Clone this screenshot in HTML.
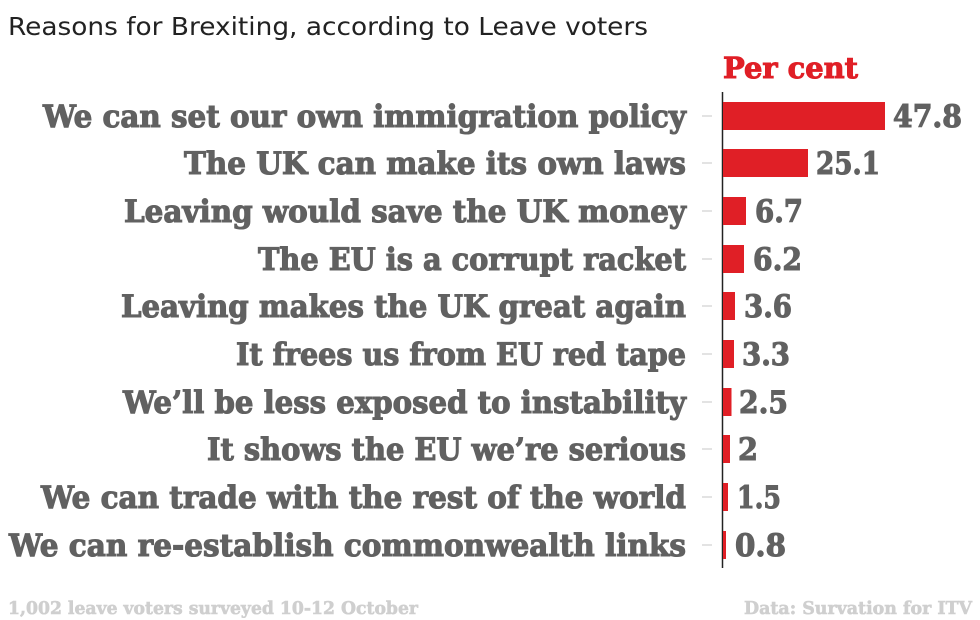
<!DOCTYPE html>
<html><head><meta charset="utf-8"><style>
html,body{margin:0;padding:0;background:#fff;}
svg{display:block;}
</style></head><body>
<svg width="980" height="620" viewBox="0 0 980 620" xmlns="http://www.w3.org/2000/svg">
<text x="8" y="35" font-family="DejaVu Sans, sans-serif" font-size="25" fill="#222" textLength="640" lengthAdjust="spacingAndGlyphs">Reasons for Brexiting, according to Leave voters</text>
<text x="723" y="78" font-family="DejaVu Serif, serif" font-weight="bold" font-size="29" fill="#e01f26" stroke="#e01f26" stroke-width="1" textLength="135" lengthAdjust="spacingAndGlyphs">Per cent</text>
<line x1="722.5" y1="92" x2="722.5" y2="568" stroke="#222" stroke-width="1.5"/>
<g font-family="DejaVu Serif, serif" font-weight="bold" font-size="31" fill="#616161" stroke="#616161" stroke-width="1.1">
<line x1="702" y1="116" x2="712" y2="116" stroke="#ccc"/><rect x="723" y="102" width="162" height="28" fill="#e01f26" stroke="none"/>
<text x="43" y="127" textLength="643" lengthAdjust="spacingAndGlyphs">We can set our own immigration policy</text>
<text x="893" y="127" textLength="69" lengthAdjust="spacingAndGlyphs">47.8</text>

<line x1="702" y1="163" x2="712" y2="163" stroke="#ccc"/><rect x="723" y="149" width="85" height="28" fill="#e01f26" stroke="none"/>
<text x="184" y="174" textLength="502" lengthAdjust="spacingAndGlyphs">The UK can make its own laws</text>
<text x="816" y="174" textLength="64" lengthAdjust="spacingAndGlyphs">25.1</text>

<line x1="702" y1="211" x2="712" y2="211" stroke="#ccc"/><rect x="723" y="197" width="23" height="28" fill="#e01f26" stroke="none"/>
<text x="124" y="222" textLength="562" lengthAdjust="spacingAndGlyphs">Leaving would save the UK money</text>
<text x="755" y="222" textLength="48" lengthAdjust="spacingAndGlyphs">6.7</text>

<line x1="702" y1="259" x2="712" y2="259" stroke="#ccc"/><rect x="723" y="245" width="21" height="28" fill="#e01f26" stroke="none"/>
<text x="258" y="270" textLength="428" lengthAdjust="spacingAndGlyphs">The EU is a corrupt racket</text>
<text x="753" y="270" textLength="49" lengthAdjust="spacingAndGlyphs">6.2</text>

<line x1="702" y1="306" x2="712" y2="306" stroke="#ccc"/><rect x="723" y="292" width="12" height="28" fill="#e01f26" stroke="none"/>
<text x="121" y="317" textLength="565" lengthAdjust="spacingAndGlyphs">Leaving makes the UK great again</text>
<text x="744" y="317" textLength="48" lengthAdjust="spacingAndGlyphs">3.6</text>

<line x1="702" y1="354" x2="712" y2="354" stroke="#ccc"/><rect x="723" y="340" width="11" height="28" fill="#e01f26" stroke="none"/>
<text x="236" y="365" textLength="450" lengthAdjust="spacingAndGlyphs">It frees us from EU red tape</text>
<text x="742" y="365" textLength="48" lengthAdjust="spacingAndGlyphs">3.3</text>

<line x1="702" y1="402" x2="712" y2="402" stroke="#ccc"/><rect x="723" y="388" width="8.5" height="28" fill="#e01f26" stroke="none"/>
<text x="123" y="413" textLength="563" lengthAdjust="spacingAndGlyphs">We’ll be less exposed to instability</text>
<text x="739" y="413" textLength="49" lengthAdjust="spacingAndGlyphs">2.5</text>

<line x1="702" y1="449" x2="712" y2="449" stroke="#ccc"/><rect x="723" y="435" width="7" height="28" fill="#e01f26" stroke="none"/>
<text x="207" y="460" textLength="479" lengthAdjust="spacingAndGlyphs">It shows the EU we’re serious</text>
<text x="738" y="460" textLength="20" lengthAdjust="spacingAndGlyphs">2</text>

<line x1="702" y1="497" x2="712" y2="497" stroke="#ccc"/><rect x="723" y="483" width="5" height="28" fill="#e01f26" stroke="none"/>
<text x="41" y="508" textLength="645" lengthAdjust="spacingAndGlyphs">We can trade with the rest of the world</text>
<text x="737" y="508" textLength="44" lengthAdjust="spacingAndGlyphs">1.5</text>

<line x1="702" y1="545" x2="712" y2="545" stroke="#ccc"/><rect x="723" y="531" width="3" height="28" fill="#e01f26" stroke="none"/>
<text x="9" y="556" textLength="677" lengthAdjust="spacingAndGlyphs">We can re-establish commonwealth links</text>
<text x="735" y="556" textLength="51" lengthAdjust="spacingAndGlyphs">0.8</text>
</g>
<g font-family="DejaVu Serif, serif" font-weight="bold" font-size="18" fill="#cfcfcf" stroke="#cfcfcf" stroke-width="0.6">
<text x="8" y="614" textLength="410" lengthAdjust="spacingAndGlyphs">1,002 leave voters surveyed 10-12 October</text>
<text x="744" y="614" textLength="228" lengthAdjust="spacingAndGlyphs">Data: Survation for ITV</text>
</g>
</svg>
</body></html>
